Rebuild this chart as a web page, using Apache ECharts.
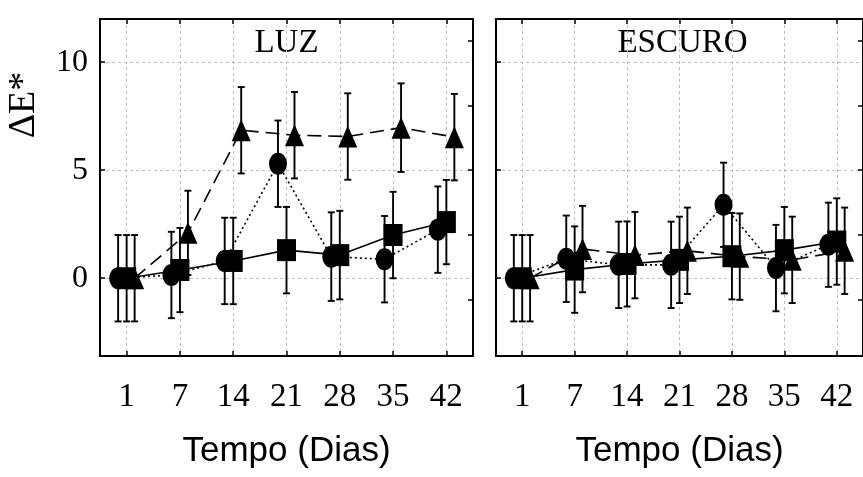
<!DOCTYPE html>
<html>
<head>
<meta charset="utf-8">
<script src="https://cdn.jsdelivr.net/npm/echarts@6/dist/echarts.min.js"></script>
<style>
  html, body { margin: 0; padding: 0; background: #fff; }
  #chart { width: 863px; height: 477px; }
</style>
</head>
<body>
<div id="chart"></div>
<script>
// Sampling days (x categories)
const days = ['1', '7', '14', '21', '28', '35', '42'];

// ΔE* means and error half-widths, panel LUZ
const luzCirculo        = [0, 0.15, 0.8, 5.3, 1.0, 0.88, 2.25];
const luzCirculoErro    = [2.0, 2.0, 2.0, 2.0, 2.05, 2.0, 2.0];
const luzQuadrado       = [0, 0.38, 0.8, 1.3, 1.07, 2.0, 2.6];
const luzQuadradoErro   = [2.0, 1.95, 2.0, 2.0, 2.05, 2.0, 1.95];
const luzTriangulo      = [0, 2.1, 6.85, 6.62, 6.56, 6.97, 6.53];
const luzTrianguloErro  = [2.0, 1.95, 2.0, 2.0, 2.0, 2.05, 2.0];

// ΔE* means and error half-widths, panel ESCURO
const escuroCirculo       = [0, 0.9, 0.62, 0.62, 3.4, 0.47, 1.55];
const escuroCirculoErro   = [2.0, 2.0, 2.0, 2.0, 1.95, 2.0, 1.95];
const escuroQuadrado      = [0, 0.4, 0.66, 0.85, 1.02, 1.3, 1.7];
const escuroQuadradoErro  = [2.0, 2.0, 1.97, 2.0, 2.0, 2.0, 2.0];
const escuroTriangulo     = [0, 1.35, 1.07, 1.27, 1.0, 0.85, 1.27];
const escuroTrianguloErro = [2.0, 2.0, 2.0, 2.0, 2.0, 2.0, 2.0];

// Axis tick values
const yLabelTicks = [0, 5, 10];
const yRightTicks = [-1, 2, 5, 8, 11];

const SERIF = 'Liberation Serif';
const SANS = 'Liberation Sans';
const GRID_LINE = { color: '#bdbdbd', width: 1, type: [3, 3] };

// marker styles per group: shape, size, line dash, horizontal shift within the day slot
const groups = [
  { symbol: 'circle',   size: [18, 22], line: { type: [2, 3], width: 1.6 }, shift: -0.16 },
  { symbol: 'rect',     size: [19, 22], line: { type: 'solid', width: 1.6 }, shift: 0 },
  { symbol: 'triangle', size: [19, 22], line: { type: [14, 7], width: 1.6 }, shift: 0.15 }
];

const panels = [
  { title: 'LUZ', left: 100, showLabels: true,
    data: [[luzCirculo, luzCirculoErro], [luzQuadrado, luzQuadradoErro], [luzTriangulo, luzTrianguloErro]] },
  { title: 'ESCURO', left: 496, showLabels: false,
    data: [[escuroCirculo, escuroCirculoErro], [escuroQuadrado, escuroQuadradoErro], [escuroTriangulo, escuroTrianguloErro]] }
];

const PANEL_W = 373, PANEL_TOP = 19, PANEL_H = 337;

const grid = [], xAxis = [], yAxis = [], series = [], graphic = [];

function errorBars(params, api) {
  const x = api.value(0), y = api.value(1), e = api.value(2);
  const hi = api.coord([x, y + e]);
  const lo = api.coord([x, y - e]);
  const hw = 3.5;
  const style = { stroke: '#000', lineWidth: 1.9 };
  return {
    type: 'group',
    children: [
      { type: 'line', shape: { x1: hi[0], y1: hi[1], x2: lo[0], y2: lo[1] }, style },
      { type: 'line', shape: { x1: hi[0] - hw, y1: hi[1], x2: hi[0] + hw, y2: hi[1] }, style },
      { type: 'line', shape: { x1: lo[0] - hw, y1: lo[1], x2: lo[0] + hw, y2: lo[1] }, style }
    ]
  };
}

panels.forEach((p, pi) => {
  grid.push({
    left: p.left, top: PANEL_TOP, width: PANEL_W, height: PANEL_H,
    show: true, borderColor: '#000', borderWidth: 2, backgroundColor: '#fff'
  });
  const xb = pi * 3, yb = pi * 2;
  // bottom category axis: labels, ticks, vertical grid lines
  xAxis.push({
    type: 'category', gridIndex: pi, data: days, position: 'bottom', boundaryGap: true,
    axisLine: { show: true, onZero: false, lineStyle: { color: '#000', width: 2 } },
    axisTick: { show: true, inside: true, length: 5, alignWithLabel: true, lineStyle: { color: '#000', width: 1.5 } },
    axisLabel: { show: true, margin: 25, color: '#000', fontFamily: SERIF, fontSize: 33, interval: 0 },
    splitLine: { show: true, alignWithLabel: true, lineStyle: GRID_LINE },
    name: 'Tempo (Dias)', nameLocation: 'middle', nameGap: 78,
    nameTextStyle: { color: '#000', fontFamily: SANS, fontSize: 35 }
  });
  // top category axis: inner ticks only
  xAxis.push({
    type: 'category', gridIndex: pi, data: days, position: 'top', boundaryGap: true,
    axisLine: { show: true, onZero: false, lineStyle: { color: '#000', width: 1.5 } },
    axisTick: { show: true, inside: true, length: 5, alignWithLabel: true, lineStyle: { color: '#000', width: 1.5 } },
    axisLabel: { show: false },
    splitLine: { show: false }
  });
  // hidden value axis carrying the shifted marker positions
  xAxis.push({ type: 'value', gridIndex: pi, min: 0, max: 7, show: false, axisLine: { onZero: false } });

  yAxis.push({
    type: 'value', gridIndex: pi, min: -3.6, max: 12, position: 'left',
    axisLine: { show: true, onZero: false, lineStyle: { color: '#000', width: 2 } },
    axisTick: { show: true, inside: true, length: 5, customValues: yLabelTicks, lineStyle: { color: '#000', width: 1.5 } },
    axisLabel: { show: p.showLabels, customValues: yLabelTicks, margin: 12, color: '#000', fontFamily: SERIF, fontSize: 32 },
    splitLine: { show: true, lineStyle: GRID_LINE }
  });
  yAxis.push({
    type: 'value', gridIndex: pi, min: -3.6, max: 12, position: 'right',
    axisLine: { show: true, onZero: false, lineStyle: { color: '#000', width: 2 } },
    axisTick: { show: true, inside: true, length: 5, customValues: yRightTicks, lineStyle: { color: '#000', width: 1.5 } },
    axisLabel: { show: false },
    splitLine: { show: false }
  });

  p.data.forEach(([means, errs], gi) => {
    const g = groups[gi];
    const pts = means.map((m, i) => [i + 0.5 + g.shift, m, errs[i]]);
    series.push({
      type: 'custom', xAxisIndex: xb + 2, yAxisIndex: yb, renderItem: errorBars,
      data: pts, silent: true, z: 2, encode: { x: 0, y: 1 }
    });
    series.push({
      type: 'line', xAxisIndex: xb + 2, yAxisIndex: yb,
      data: pts.map(d => [d[0], d[1]]),
      symbol: g.symbol, symbolSize: g.size, showSymbol: true,
      itemStyle: { color: '#000' },
      lineStyle: Object.assign({ color: '#000' }, g.line),
      silent: true, z: 3, animation: false
    });
  });

  graphic.push({
    type: 'text', x: p.left + PANEL_W / 2, y: 43,
    style: { text: p.title, fill: '#000', font: '33px "' + SERIF + '"', align: 'center', verticalAlign: 'middle' }
  });
});

graphic.push({
  type: 'text', x: 24, y: 105, rotation: Math.PI / 2,
  style: { text: 'ΔE*', fill: '#000', font: '38px "' + SERIF + '"', align: 'center', verticalAlign: 'middle' }
});

const chart = echarts.init(document.getElementById('chart'), null, { renderer: 'canvas' });
chart.setOption({
  animation: false,
  backgroundColor: '#fff',
  grid, xAxis, yAxis, series, graphic
});
</script>
</body>
</html>
